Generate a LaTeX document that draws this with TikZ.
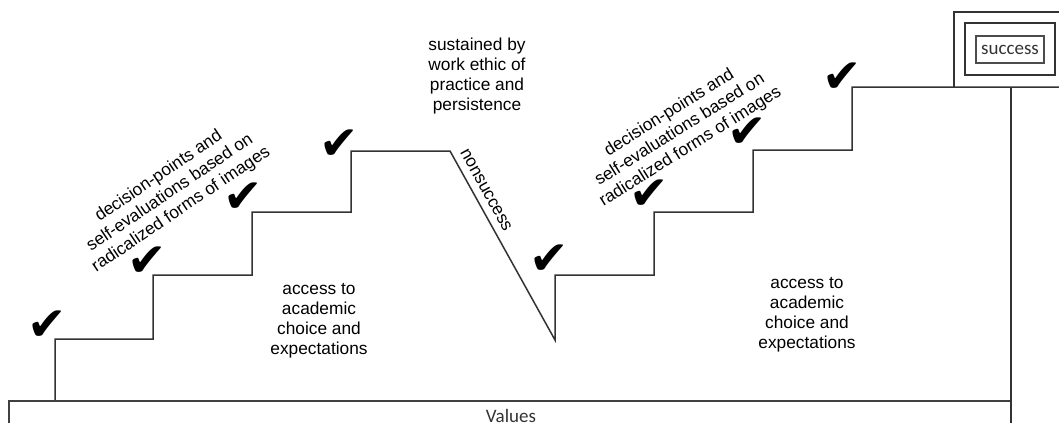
\documentclass[tikz,border=0pt]{standalone}
\usepackage{fontspec}
\setmainfont{Liberation Sans}
\newfontfamily\tickfont{DejaVu Sans}
\newfontfamily\labelfont{Carlito}
\usepackage{tikz}
\usetikzlibrary{calc,positioning}

\begin{document}
\begin{tikzpicture}[x=1pt,y=-1pt,
    stair/.style={line width=1.5pt,draw=black!80},
    ground/.style={line width=2.2pt,draw=black!75},
    tick/.style={font=\tickfont\fontsize{47}{47}\selectfont,inner sep=0pt},
    note/.style={font=\fontsize{17.3}{20}\selectfont,align=center,inner sep=0pt},
    boxlabel/.style={font=\labelfont\fontsize{19}{20}\selectfont,text=black!80,inner sep=0pt}]
    \clip (0,0) rectangle (1059,423);
    % corners of the two staircases
    \coordinate (A0) at (55,401);
    \coordinate (A1) at (55,339);
    \coordinate (A2) at (153,339);
    \coordinate (A3) at (153,275);
    \coordinate (A4) at (252,275);
    \coordinate (A5) at (252,212);
    \coordinate (A6) at (351,212);
    \coordinate (A7) at (351,151);
    \coordinate (T) at (450,151);
    \coordinate (V) at (555,340);
    \coordinate (B1) at (555,275);
    \coordinate (B2) at (654,275);
    \coordinate (B3) at (654,212);
    \coordinate (B4) at (753,212);
    \coordinate (B5) at (753,150);
    \coordinate (B6) at (852,150);
    \coordinate (B7) at (852,87);
    \coordinate (E) at (1070,87);
    \draw[stair] (A0)--(A1)--(A2)--(A3)--(A4)--(A5)--(A6)--(A7)--(T)--(V)
        --(B1)--(B2)--(B3)--(B4)--(B5)--(B6)--(B7)--(E);
    % values floor and right wall
    \coordinate (G1) at (9,423);
    \coordinate (G2) at (9,401);
    \coordinate (G3) at (1011,401);
    \coordinate (W1) at (1011,87);
    \coordinate (W2) at (1011,423);
    \draw[ground] (G1)--(G2)--(G3);
    \draw[stair] (W1)--(W2);
    \node[boxlabel,anchor=base] (values) at (511,422) {Values};
    % success boxes
    \coordinate (P1) at (954,87);
    \coordinate (P2) at (954,12);
    \coordinate (P3) at (1070,12);
    \draw[stair] (P1)--(P2)--(P3);
    \node[draw=black!80,line width=1.5pt,minimum width=90pt,minimum height=52pt] (successframe) at (1010,49) {};
    \node[draw=black!70,line width=1.3pt,boxlabel,minimum width=68pt,minimum height=27pt] (success) at (1010,49.5) {success};
    % check marks
    \foreach \x/\y [count=\i] in {47/326,147/262,243/198,339/145,549/260,649/195,747/133,842/78}
        \node[tick] (tick\i) at (\x,\y) {✔};
    % texts
    \node[note,rotate=34] (decideA) at (170,193) {decision-points and\\self-evaluations based on\\radicalized forms of images};
    \node[note,rotate=32] (decideB) at (680,130) {decision-points and\\self-evaluations based on\\radicalized forms of images};
    \node[note] (accessA) at (319,321) {access to\\academic\\choice and\\expectations};
    \node[note] (accessB) at (807,315) {access to\\academic\\choice and\\expectations};
    \node[note] (sustained) at (477,76) {sustained by\\work ethic of\\practice and\\persistence};
    \node[note,rotate=-61] (nonsuccess) at (486,190) {nonsuccess};
\end{tikzpicture}
\end{document}
